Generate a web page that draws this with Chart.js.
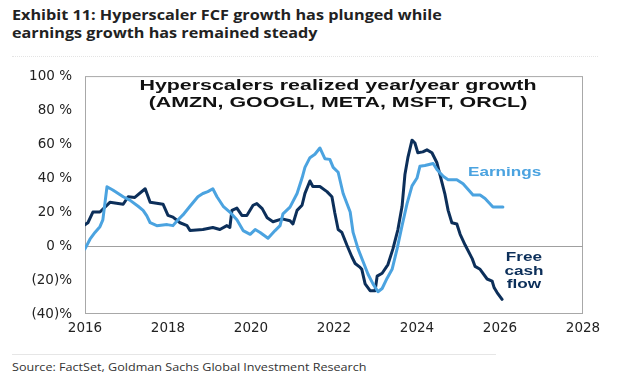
<!DOCTYPE html>
<html>
<head>
<meta charset="utf-8">
<script src="https://cdn.jsdelivr.net/npm/chart.js@4"></script>
<style>
  html, body { margin:0; padding:0; background:#fff; width:633px; height:379px; overflow:hidden; }
  .st { position:absolute; white-space:nowrap; transform-origin:0 0; }
  #title { left:12px; top:6px; font-family:"Open Sans","Liberation Sans",sans-serif; font-weight:700; font-size:13.5px; line-height:18px; color:#222; transform:scaleX(1.2); }
  #sep1 { position:absolute; left:12px; top:56px; width:586px; border-top:1px dotted #e4e4e4; }
  #wrap { position:absolute; left:0; top:55px; width:633px; height:290px; }
  #inner { left:338px; top:76px; font-family:"Liberation Sans",Arial,sans-serif; font-weight:700; font-size:15.5px; line-height:17px; color:#111; text-align:center; transform:translateX(-50%) scaleX(1.38); transform-origin:50% 0; }
  #inner2 { position:absolute; left:138px; top:76px; width:400px; }
  #lblE { left:468px; top:164px; font-family:"Liberation Sans",Arial,sans-serif; font-weight:700; font-size:12.5px; line-height:16px; color:#4ba3e0; transform:scaleX(1.37); }
  #lblF { left:524px; top:250px; font-family:"Liberation Sans",Arial,sans-serif; font-weight:700; font-size:13px; line-height:13.5px; color:#0c2f5a; text-align:center; transform:translateX(-50%) scaleX(1.32); transform-origin:50% 0; }
  #sep2 { position:absolute; left:12px; top:354px; width:484px; border-top:1.5px solid #e6e6e6; }
  #src { left:12px; top:360px; font-family:"Open Sans","Liberation Sans",sans-serif; font-size:11px; line-height:14px; color:#333; transform:scaleX(1.145); }
</style>
</head>
<body>
<div id="title" class="st">Exhibit 11: Hyperscaler FCF growth has plunged while<br>earnings growth has remained steady</div>
<div id="sep1"></div>
<div id="wrap"><canvas id="c" width="633" height="290"></canvas></div>
<div id="inner" class="st">Hyperscalers realized year/year growth<br>(AMZN, GOOGL, META, MSFT, ORCL)</div>
<div id="lblE" class="st">Earnings</div>
<div id="lblF" class="st">Free<br>cash<br>flow</div>
<div id="sep2"></div>
<div id="src" class="st">Source: FactSet, Goldman Sachs Global Investment Research</div>
<script>
const xTicks = [2016, 2018, 2020, 2022, 2024, 2026, 2028];
const yTicks = [-40, -20, 0, 20, 40, 60, 80, 100];

const fcfYears = [2016.00,2016.07,2016.19,2016.36,2016.60,2016.92,2017.04,2017.20,2017.45,2017.57,2017.88,2018.00,2018.12,2018.29,2018.46,2018.53,2018.84,2019.08,2019.25,2019.42,2019.49,2019.54,2019.66,2019.78,2019.90,2020.05,2020.14,2020.27,2020.39,2020.53,2020.75,2020.94,2021.01,2021.11,2021.23,2021.30,2021.42,2021.49,2021.66,2021.83,2021.95,2022.02,2022.10,2022.19,2022.31,2022.43,2022.51,2022.63,2022.67,2022.75,2022.87,2022.99,2023.04,2023.16,2023.30,2023.42,2023.54,2023.64,2023.71,2023.78,2023.88,2023.95,2024.02,2024.14,2024.24,2024.36,2024.48,2024.55,2024.67,2024.75,2024.84,2024.96,2025.04,2025.16,2025.33,2025.40,2025.52,2025.69,2025.81,2025.86,2025.93,2026.05];
const fcfValues = [12.6,13.7,20,20,25.7,24.6,29,28.6,33.7,25.7,24.6,18,17,13.7,12,9.1,9.7,10.9,9.7,12,10.9,21,22.3,18,18,24,25,22,16.6,14.3,16,14.9,13,21,24,31,38.3,35,35,32,29,19.4,9.7,8,0.6,-6.3,-10.3,-12.6,-13.7,-22.3,-26.3,-26.3,-17.7,-16,-10.9,-1.7,9.7,23.4,42.3,52,62.3,60.6,54.9,55.4,56.6,54.9,49,42.3,30.9,21,13.7,13,6.9,0.6,-7.4,-12,-13.7,-19.4,-20.6,-24.6,-27.4,-31.4];

const earnYears = [2016.00,2016.12,2016.24,2016.36,2016.43,2016.53,2016.67,2016.92,2017.08,2017.28,2017.40,2017.49,2017.57,2017.73,2017.98,2018.12,2018.22,2018.36,2018.53,2018.72,2018.84,2018.96,2019.08,2019.18,2019.33,2019.49,2019.66,2019.81,2019.98,2020.10,2020.22,2020.41,2020.58,2020.70,2020.77,2020.94,2021.11,2021.23,2021.30,2021.42,2021.54,2021.66,2021.78,2021.90,2021.98,2022.10,2022.22,2022.39,2022.46,2022.58,2022.70,2022.82,2022.94,2023.06,2023.16,2023.28,2023.40,2023.52,2023.64,2023.76,2023.88,2024.00,2024.07,2024.19,2024.39,2024.48,2024.63,2024.75,2024.96,2025.11,2025.35,2025.52,2025.64,2025.83,2026.07];
const earnValues = [-1.7,4,8,11.4,15.4,34.9,33,29,27,23.4,21,17.7,13.7,12,12.6,12,14.9,18.3,23.4,29,30.9,32,33.7,29,23.4,20,15.4,9.1,6.9,9.7,8,4.6,9.1,12,18.9,22.9,30.9,40,46.3,52,54,57.7,51.4,51,46.3,43.4,30.9,20,8,-1.7,-9.1,-16.6,-22.3,-26.9,-25,-18.9,-13.7,-1.7,12,25,35.4,40,46.9,47.4,48.6,45,41,39,39,36.6,30,30,28,23,23];

const NAVY = '#0c2f5a';
const LIGHT = '#4ba3e0';

const toXY = (xs, ys) => xs.map((x, i) => ({ x: x, y: ys[i] }));

const boxPlugin = {
  id: 'box',
  beforeDatasetsDraw(chart) {
    const { ctx, chartArea: a, scales } = chart;
    ctx.save();
    ctx.strokeStyle = '#a8a8a8';
    ctx.lineWidth = 1;
    ctx.strokeRect(a.left + 0.5, a.top + 0.5, a.right - a.left - 1, a.bottom - a.top - 1);
    const y0 = Math.round(scales.y.getPixelForValue(0)) + 0.5;
    ctx.strokeStyle = '#a0a0a0';
    ctx.beginPath(); ctx.moveTo(a.left, y0); ctx.lineTo(a.right, y0); ctx.stroke();
    ctx.restore();
  }
};

const tickFont = { family: '"DejaVu Sans", "Liberation Sans", sans-serif', size: 13.5 };

new Chart(document.getElementById('c'), {
  type: 'line',
  data: {
    datasets: [
      { label: 'Earnings', data: toXY(earnYears, earnValues), borderColor: LIGHT, borderWidth: 3, pointRadius: 0, tension: 0, borderJoinStyle: 'round', borderCapStyle: 'round' },
      { label: 'Free cash flow', data: toXY(fcfYears, fcfValues), borderColor: NAVY, borderWidth: 3, pointRadius: 0, tension: 0, borderJoinStyle: 'round', borderCapStyle: 'round' }
    ]
  },
  options: {
    responsive: false,
    animation: false,
    events: [],
    layout: { padding: { left: 0, right: 50, top: 13, bottom: 0 } },
    plugins: { legend: { display: false }, tooltip: { enabled: false } },
    scales: {
      x: {
        type: 'linear', min: 2016, max: 2028,
        afterBuildTicks: (axis) => { axis.ticks = xTicks.map(v => ({ value: v })); },
        afterFit: (axis) => { axis.height = 31; },
        grid: { display: false, drawTicks: false },
        border: { display: false },
        ticks: { padding: 6, color: '#222', font: tickFont, callback: (v) => String(v), maxRotation: 0, autoSkip: false }
      },
      y: {
        min: -40, max: 100,
        afterBuildTicks: (axis) => { axis.ticks = yTicks.map(v => ({ value: v })); },
        afterFit: (axis) => { axis.width = 85; },
        grid: { display: false, drawTicks: false },
        border: { display: false },
        ticks: { padding: 13, color: '#222', font: tickFont, callback: (v) => v < 0 ? '(' + (-v) + ')%' : v + ' %' }
      }
    }
  },
  plugins: [boxPlugin]
});
</script>
</body>
</html>
